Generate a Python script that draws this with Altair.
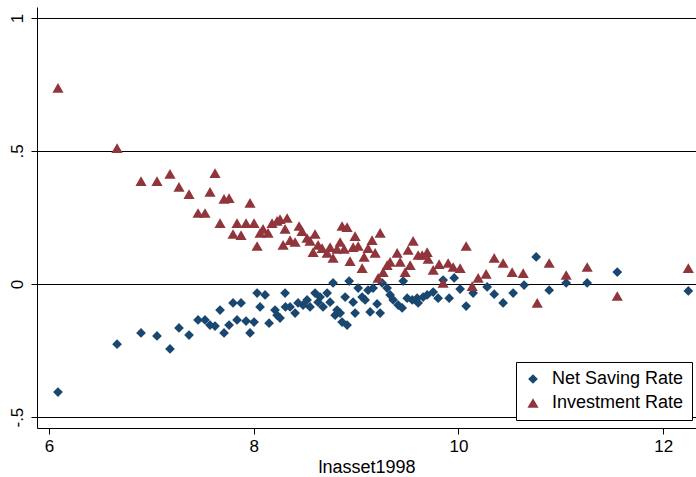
import altair as alt
import pandas as pd

# Investment Rate (triangles)
inv_x = [6.088, 6.665, 6.899, 7.055, 7.182, 7.270, 7.368, 7.456, 7.524, 7.573,
         7.622, 7.671, 7.710, 7.759, 7.798, 7.837, 7.876, 7.925, 7.964, 8.003,
         8.033, 8.062, 8.091, 8.140, 8.179, 8.228, 8.257, 8.287, 8.306, 8.326,
         8.355, 8.404, 8.443, 8.472, 8.521, 8.550, 8.580, 8.599, 8.629, 8.668,
         8.717, 8.746, 8.775, 8.814, 8.844, 8.863, 8.883, 8.912, 8.941, 8.971,
         8.990, 9.020, 9.059, 9.078, 9.117, 9.156, 9.186, 9.215, 9.235, 9.264,
         9.303, 9.332, 9.401, 9.430, 9.479, 9.508, 9.528, 9.557, 9.606, 9.645,
         9.694, 9.704, 9.753, 9.811, 9.850, 9.899, 9.948, 10.016, 10.075, 10.134,
         10.192, 10.270, 10.349, 10.436, 10.524, 10.632, 10.769, 10.886, 11.052, 11.257,
         11.551, 12.245]
inv_y = [0.737, 0.511, 0.387, 0.387, 0.414, 0.365, 0.338, 0.267, 0.267, 0.346,
         0.417, 0.229, 0.320, 0.323, 0.188, 0.229, 0.184, 0.229, 0.305, 0.229,
         0.143, 0.192, 0.207, 0.192, 0.229, 0.237, 0.244, 0.147, 0.207, 0.248,
         0.165, 0.158, 0.218, 0.199, 0.173, 0.162, 0.120, 0.188, 0.147, 0.135,
         0.117, 0.139, 0.098, 0.132, 0.158, 0.218, 0.132, 0.214, 0.086, 0.139,
         0.180, 0.143, 0.060, 0.102, 0.135, 0.165, 0.117, 0.023, 0.192, 0.045,
         0.071, 0.083, 0.117, 0.083, 0.045, 0.128, 0.071, 0.162, 0.109, 0.109,
         0.120, 0.094, 0.053, 0.075, 0.004, 0.079, 0.064, 0.060, 0.143, -0.008,
         0.023, 0.038, 0.098, 0.079, 0.045, 0.041, -0.071, 0.079, 0.034, 0.064,
         -0.045, 0.060]

# Net Saving Rate (diamonds)
sav_x = [6.088, 6.665, 6.899, 7.055, 7.182, 7.270, 7.368, 7.456, 7.524, 7.573,
         7.622, 7.671, 7.710, 7.759, 7.798, 7.837, 7.876, 7.925, 7.964, 8.003,
         8.033, 8.062, 8.111, 8.150, 8.208, 8.228, 8.257, 8.306, 8.310, 8.355,
         8.404, 8.433, 8.482, 8.521, 8.550, 8.599, 8.629, 8.648, 8.677, 8.717,
         8.746, 8.775, 8.795, 8.814, 8.844, 8.863, 8.893, 8.912, 8.932, 8.971,
         8.990, 9.020, 9.059, 9.088, 9.117, 9.137, 9.166, 9.205, 9.235, 9.254,
         9.303, 9.332, 9.362, 9.411, 9.450, 9.460, 9.499, 9.548, 9.596, 9.606,
         9.655, 9.694, 9.753, 9.801, 9.850, 9.909, 9.958, 10.016, 10.075, 10.143,
         10.280, 10.349, 10.436, 10.534, 10.641, 10.759, 10.886, 11.052, 11.257, 11.551,
         12.245]
sav_y = [-0.406, -0.226, -0.184, -0.195, -0.244, -0.165, -0.192, -0.135, -0.135, -0.154,
         -0.158, -0.098, -0.184, -0.154, -0.071, -0.135, -0.071, -0.139, -0.184, -0.143,
         -0.034, -0.086, -0.041, -0.147, -0.098, -0.117, -0.128, -0.034, -0.086, -0.086,
         -0.109, -0.071, -0.079, -0.060, -0.086, -0.034, -0.068, -0.049, -0.086, -0.034,
         -0.068, 0.004, -0.117, -0.098, -0.109, -0.143, -0.049, -0.154, 0.011, -0.068,
         -0.109, -0.015, -0.049, -0.060, -0.023, -0.105, -0.015, -0.075, -0.109, 0.004,
         -0.015, -0.041, -0.060, -0.079, -0.090, 0.011, -0.053, -0.060, -0.053, -0.071,
         -0.049, -0.041, -0.030, -0.053, 0.015, -0.053, 0.023, -0.019, -0.083, -0.034,
         -0.011, -0.038, -0.071, -0.034, -0.004, 0.102, -0.023, 0.004, 0.004, 0.045,
         -0.026]

series_names = ["Net Saving Rate", "Investment Rate"]
y_ticks = [-0.5, 0, 0.5, 1]
x_ticks = [6, 8, 10, 12]

rows = [{"x": a, "y": b, "series": series_names[0]} for a, b in zip(sav_x, sav_y)]
rows += [{"x": a, "y": b, "series": series_names[1]} for a, b in zip(inv_x, inv_y)]
df = pd.DataFrame(rows)

FONT = "Liberation Sans"

chart = alt.Chart(df).mark_point(filled=True, opacity=1, strokeWidth=0).encode(
    x=alt.X("x:Q",
            scale=alt.Scale(domain=[5.883, 12.32], nice=False, zero=False),
            axis=alt.Axis(values=x_ticks, title="lnasset1998", grid=False,
                          tickSize=6, labelPadding=4, titlePadding=4,
                          labelFontSize=17, titleFontSize=18, format="d")),
    y=alt.Y("y:Q",
            scale=alt.Scale(domain=[-0.541, 1.041], nice=False, zero=False),
            axis=alt.Axis(values=y_ticks, title=None, grid=True,
                          tickSize=6, labelPadding=9, labelFontSize=17,
                          labelAngle=270, labelAlign="center", labelBaseline="alphabetic",
                          labelExpr="datum.value == 0 ? '0' : datum.value == 1 ? '1' : datum.value == 0.5 ? '.5' : '-.5'")),
    color=alt.Color("series:N",
                    scale=alt.Scale(domain=series_names, range=["#1A476F", "#90353B"]),
                    legend=alt.Legend(title=None, orient="none", legendX=479, legendY=355,
                                      direction="vertical", symbolSize=110,
                                      labelFontSize=18, labelOffset=10, rowPadding=6,
                                      padding=8, strokeColor="black", fillColor="white",
                                      symbolStrokeWidth=0, labelLimit=300)),
    shape=alt.Shape("series:N",
                    scale=alt.Scale(domain=series_names, range=["diamond", "triangle-up"])),
    size=alt.Size("series:N",
                  scale=alt.Scale(domain=series_names, range=[95, 125]), legend=None),
    order=alt.Order("ord:Q"),
).transform_calculate(
    ord="datum.series == 'Net Saving Rate' ? 0 : 1"
).properties(
    width=659, height=421,
    autosize=alt.AutoSizeParams(type="none"),
    padding={"left": 37, "top": 7, "right": 0, "bottom": 49},
    background="white",
).configure_view(stroke=None).configure_axis(
    labelFont=FONT, titleFont=FONT, labelColor="black", titleColor="black",
    domainColor="black", tickColor="black", gridColor="black", gridOpacity=1,
    gridWidth=1, domainWidth=1, tickWidth=1, titleFontWeight="normal",
).configure_legend(labelFont=FONT, labelColor="black")

chart.save("out.html", embed_options={"renderer": "svg", "actions": False})
